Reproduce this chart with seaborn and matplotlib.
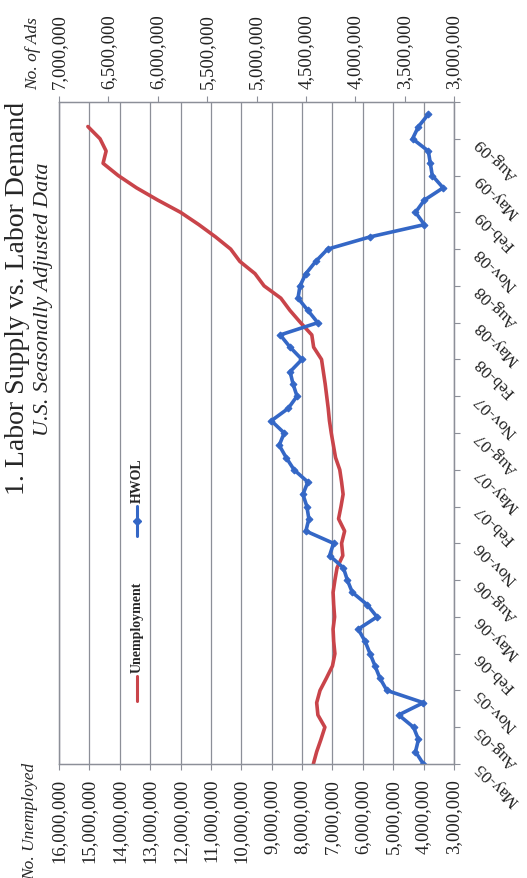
import numpy as np
import pandas as pd
import seaborn as sns
import matplotlib.pyplot as plt
from matplotlib.ticker import FuncFormatter, MultipleLocator
from matplotlib.lines import Line2D

# monthly values from May-05, in millions
unemployed = [7.63, 7.52, 7.38, 7.25, 7.48, 7.52, 7.41, 7.20, 7.00, 6.92,
              6.96, 6.98, 6.93, 6.96, 6.98, 6.92, 6.85, 6.66, 6.70, 6.60,
              6.80, 6.72, 6.65, 6.70, 6.76, 6.90, 6.97, 7.04, 7.10, 7.14,
              7.19, 7.24, 7.30, 7.36, 7.62, 7.68, 8.05, 8.40, 8.70, 9.25,
              9.55, 10.05, 10.35, 10.85, 11.40, 12.00, 12.75, 13.45, 14.05, 14.55,
              14.45, 14.65, 15.05]
hwol_ads = [3.31, 3.39, 3.36, 3.41, 3.56, 3.31, 3.68, 3.75, 3.80, 3.85,
            3.90, 3.97, 3.78, 3.88, 4.03, 4.08, 4.12, 4.26, 4.22, 4.50,
            4.47, 4.49, 4.53, 4.48, 4.62, 4.70, 4.77, 4.72, 4.85, 4.68,
            4.59, 4.63, 4.66, 4.54, 4.66, 4.76, 4.38, 4.48, 4.58, 4.56,
            4.50, 4.40, 4.28, 3.85, 3.30, 3.39, 3.30, 3.11, 3.22, 3.24,
            3.26, 3.42, 3.36, 3.26]
quarter_labels = ["May-05", "Aug-05", "Nov-05", "Feb-06", "May-06", "Aug-06",
                  "Nov-06", "Feb-07", "May-07", "Aug-07", "Nov-07", "Feb-08",
                  "May-08", "Aug-08", "Nov-08", "Feb-09", "May-09", "Aug-09"]

unemp_df = pd.DataFrame({"month": np.arange(len(unemployed)),
                         "value": np.array(unemployed) * 1e6})
ads_df = pd.DataFrame({"month": np.arange(len(hwol_ads)),
                       "value": np.array(hwol_ads) * 1e6})

RED = "#c9444a"
BLUE = "#3467c6"
GRID = "#8c8f98"

sns.set_style("white")
plt.rcParams["font.family"] = ["Liberation Serif", "DejaVu Serif"]

fig = plt.figure(figsize=(5.27, 8.79), dpi=100)
# chart is drawn turned on its side: dates run up the right edge
ax = fig.add_axes([0.112, 0.1297, 0.7495, 0.7531])
ax2 = ax.twiny()

sns.lineplot(data=unemp_df, x="value", y="month", sort=False, estimator=None,
             orient="y", color=RED, lw=2.6, ax=ax)
sns.lineplot(data=ads_df, x="value", y="month", sort=False, estimator=None,
             orient="y", color=BLUE, lw=2.6, marker="D", ms=3.5, mec=BLUE, ax=ax2)

fmt = FuncFormatter(lambda v, p: f"{v:,.0f}")

ax.set_xlim(16e6, 3e6)
ax.xaxis.set_major_locator(MultipleLocator(1e6))
ax.xaxis.set_major_formatter(fmt)
ax.grid(axis="x", color=GRID, lw=0.9)
ax.set_ylim(0, 54)
ax.set_yticks(np.arange(0, 55, 3))
ax.set_yticklabels(quarter_labels + [""])
ax.yaxis.tick_right()

ax2.set_xlim(7e6, 3e6)
ax2.xaxis.set_major_locator(MultipleLocator(5e5))
ax2.xaxis.set_major_formatter(fmt)
ax2.grid(False)

for a in (ax, ax2):
    a.set_xlabel("")
    a.set_ylabel("")
    for s in a.spines.values():
        s.set_color(GRID)
        s.set_linewidth(0.9)

ax.tick_params(axis="x", bottom=True, rotation=90, labelsize=13.5, length=4,
               pad=6, color=GRID, labelcolor="#222222")
ax2.tick_params(axis="x", top=True, rotation=90, labelsize=13.5, length=4,
                pad=6, color=GRID, labelcolor="#222222")
ax.tick_params(axis="y", left=False, right=True, labelsize=12.5, length=4,
               pad=13, color=GRID, labelcolor="#222222")
for lbl in ax.get_yticklabels():
    lbl.set_rotation(135)
    lbl.set_rotation_mode("anchor")
    lbl.set_ha("right")
    lbl.set_va("center")

# legend, turned with the chart
ax.add_line(Line2D([0.197, 0.197], [0.095, 0.133], transform=ax.transAxes,
                   color=RED, lw=2.2))
ax.text(0.197, 0.139, "Unemployment", transform=ax.transAxes, rotation=90,
        ha="center", va="bottom", fontsize=10, fontweight="bold")
ax.add_line(Line2D([0.197, 0.197], [0.344, 0.390], transform=ax.transAxes,
                   color=BLUE, lw=2.2))
ax.add_line(Line2D([0.197], [0.367], transform=ax.transAxes, color=BLUE,
                   marker="D", ms=4))
ax.text(0.197, 0.396, "HWOL", transform=ax.transAxes, rotation=90,
        ha="center", va="bottom", fontsize=10, fontweight="bold")

fig.text(0.063, 0.8976, "No. of Ads", rotation=90, ha="center", va="bottom",
         fontsize=12.5, style="italic")
fig.text(0.057, 0.132, "No. Unemployed", rotation=90, ha="center", va="top",
         fontsize=12.5, style="italic")
fig.text(0.034, 0.66, "1. Labor Supply vs. Labor Demand", rotation=90,
         ha="center", va="center", fontsize=20)
fig.text(0.082, 0.66, "U.S. Seasonally Adjusted Data", rotation=90,
         ha="center", va="center", fontsize=16, style="italic")

fig.savefig("out.png", dpi=100)
